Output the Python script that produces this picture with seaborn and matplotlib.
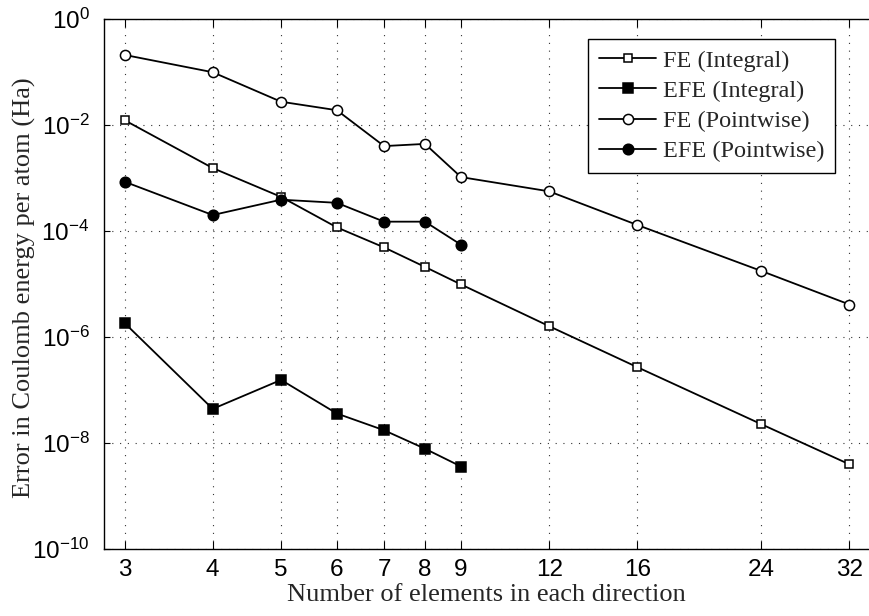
import numpy as np
import pandas as pd
import matplotlib
matplotlib.use("Agg")
import matplotlib.pyplot as plt
import seaborn as sns

# ---- data ----
n_elem = [3, 4, 5, 6, 7, 8, 9, 12, 16, 24, 32]
fe_integral = [1.23e-2, 1.54e-3, 4.4e-4, 1.17e-4, 4.9e-5, 2.1e-5, 9.8e-6,
               1.6e-6, 2.7e-7, 2.26e-8, 3.95e-9]
n_elem_efe = [3, 4, 5, 6, 7, 8, 9]
efe_integral = [1.83e-6, 4.4e-8, 1.55e-7, 3.6e-8, 1.74e-8, 7.8e-9, 3.6e-9]
fe_pointwise = [0.21, 0.099, 0.0275, 0.019, 4.0e-3, 4.4e-3, 1.04e-3,
                5.6e-4, 1.3e-4, 1.76e-5, 4.1e-6]
efe_pointwise = [8.5e-4, 2.0e-4, 3.9e-4, 3.4e-4, 1.5e-4, 1.5e-4, 5.5e-5]
series_labels = ["FE (Integral)", "EFE (Integral)", "FE (Pointwise)", "EFE (Pointwise)"]
xtick_vals = [3, 4, 5, 6, 7, 8, 9, 12, 16, 24, 32]
ytick_exps = [0, -2, -4, -6, -8, -10]

sns.set_style("white")
plt.rcParams["mathtext.fontset"] = "custom"
plt.rcParams["mathtext.rm"] = "Liberation Sans"
plt.rcParams["mathtext.it"] = "Liberation Sans"
plt.rcParams["mathtext.default"] = "regular"

W, H = 869, 616
fig = plt.figure(figsize=(W / 100, H / 100), dpi=100)
left_px, right_px, top_px, bot_px = 103.5, 869.5, 19, 549
ax = fig.add_axes([left_px / W, 1 - bot_px / H, (right_px - left_px) / W, (bot_px - top_px) / H])

frames = [
    pd.DataFrame({"n": n_elem, "err": fe_integral}),
    pd.DataFrame({"n": n_elem_efe, "err": efe_integral}),
    pd.DataFrame({"n": n_elem, "err": fe_pointwise}),
    pd.DataFrame({"n": n_elem_efe, "err": efe_pointwise}),
]
styles = [
    dict(marker="s", markersize=6.3, markerfacecolor="white"),
    dict(marker="s", markersize=6.7, markerfacecolor="black"),
    dict(marker="o", markersize=7.3, markerfacecolor="white"),
    dict(marker="o", markersize=7.6, markerfacecolor="black"),
]
for df, lab, st in zip(frames, series_labels, styles):
    sns.lineplot(data=df, x="n", y="err", ax=ax, color="black", linewidth=1.3,
                 markeredgecolor="black", markeredgewidth=1.1, label=lab,
                 estimator=None, **st)

ax.set_xscale("log")
ax.set_yscale("log")
ax.set_xlim(2.80, 34.16)
ax.set_ylim(1e-10, 1e0)

ax.set_xticks(xtick_vals)
ax.set_xticklabels([str(v) for v in xtick_vals], fontfamily="Liberation Sans", fontsize=17.5)
ax.xaxis.set_minor_locator(matplotlib.ticker.NullLocator())
ax.set_yticks([10.0 ** e for e in ytick_exps])
ax.set_yticklabels([r"$10^{%d}$" % e for e in ytick_exps], fontfamily="Liberation Sans", fontsize=17.5)
ax.yaxis.set_minor_locator(matplotlib.ticker.NullLocator())

ax.tick_params(axis="x", which="major", direction="in", length=6, width=0.8,
               top=True, bottom=True, pad=7.2, colors="black")
ax.tick_params(axis="y", which="major", direction="in", length=4.5, width=0.8,
               left=True, right=False, pad=10, colors="black")

ax.grid(True, which="major", color="#333333", linestyle=(0, (1, 6)), linewidth=0.8)
for side in ["left", "bottom", "top"]:
    ax.spines[side].set_color("black")
    ax.spines[side].set_linewidth(1.0)
ax.spines["right"].set_visible(False)

ax.set_xlabel("Number of elements in each direction", fontfamily="Liberation Serif",
              fontsize=19)
ax.xaxis.set_label_coords(0.5, -0.066)
ax.set_ylabel("Error in Coulomb energy per atom (Ha)", fontfamily="Liberation Serif",
              fontsize=19)
ax.yaxis.set_label_coords((36 - left_px) / (right_px - left_px), (bot_px - 288) / (bot_px - top_px))

leg = ax.legend(loc="upper right", bbox_to_anchor=((835 - left_px) / (right_px - left_px),
                (bot_px - 38.7) / (bot_px - top_px)), bbox_transform=ax.transAxes,
                borderaxespad=0, fancybox=False, framealpha=1, edgecolor="black",
                prop={"family": "Liberation Serif", "size": 17.5}, handlelength=2.33,
                labelspacing=0.34, borderpad=0.45, handletextpad=0.27)
leg.get_frame().set_linewidth(1.0)

fig.savefig("out.png", dpi=100)
